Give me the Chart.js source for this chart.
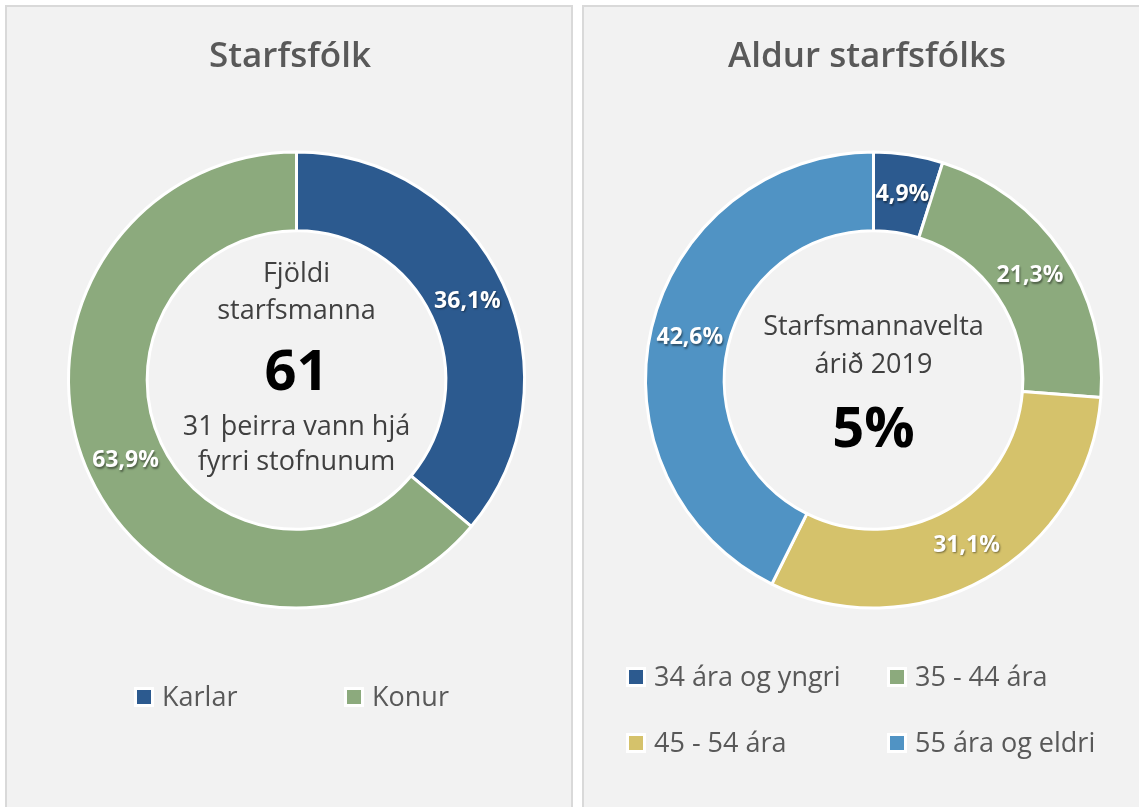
<!DOCTYPE html>
<html>
<head>
<meta charset="utf-8">
<title>Starfsfólk</title>
<script src="https://cdn.jsdelivr.net/npm/chart.js@4"></script>
<style>
    body { margin: 0; background: #fff; overflow: hidden; width: 1139px; height: 807px; position: relative; }
    .panel { position: absolute; top: 5px; width: 564px; height: 810px; border: 2px solid #d9d9d9; background: #f2f2f2; }
    #p1 { left: 5px; }
    #p2 { left: 582px; }
    canvas { display: block; }
</style>
</head>
<body>
<div class="panel" id="p1"><canvas id="chart-1" width="564" height="800"></canvas></div>
<div class="panel" id="p2"><canvas id="chart-2" width="564" height="800"></canvas></div>
<script>
// data
const staffLabels = ['Karlar', 'Konur'];
const staffShare = [36.1, 63.9];
const ageLabels = ['34 ára og yngri', '35 - 44 ára', '45 - 54 ára', '55 ára og eldri'];
const ageShare = [4.9, 21.3, 31.1, 42.6];

const staffColors = ['#2C5A8F', '#8CAA7D'];
const ageColors = ['#2C5A8F', '#8CAA7D', '#D5C26B', '#5093C4'];

const FONT = "'Open Sans', 'Noto Sans', sans-serif";

// title, labels in the slices, text in the hole and the legend
const donutText = {
    id: 'donutText',
    afterDraw(chart, args, opts) {
        const ctx = chart.ctx;
        const meta = chart.getDatasetMeta(0);
        const data = chart.data.datasets[0].data;
        const cx = meta.data[0].x, cy = meta.data[0].y;

        ctx.save();
        ctx.textAlign = 'center';
        ctx.textBaseline = 'alphabetic';

        // title
        ctx.fillStyle = '#595959';
        ctx.font = '600 35px ' + FONT;
        ctx.fillText(opts.title, opts.titleX, opts.titleY);

        // percent labels
        ctx.font = 'bold 23px ' + FONT;
        ctx.textBaseline = 'middle';
        meta.data.forEach((arc, i) => {
            const p = arc.getProps(['startAngle', 'endAngle', 'innerRadius', 'outerRadius']);
            const a = (p.startAngle + p.endAngle) / 2;
            const r = (p.innerRadius + p.outerRadius) / 2;
            ctx.shadowColor = 'rgba(0,0,0,0.45)';
            ctx.shadowOffsetX = 1;
            ctx.shadowOffsetY = 1.5;
            ctx.shadowBlur = 2;
            ctx.fillStyle = '#fff';
            ctx.fillText(data[i].toFixed(1).replace('.', ',') + '%', cx + Math.cos(a) * r, cy + Math.sin(a) * r + 1);
        });
        ctx.shadowColor = 'transparent';

        // hole text
        ctx.textBaseline = 'alphabetic';
        opts.center.forEach(line => {
            ctx.font = line.font;
            ctx.fillStyle = line.color;
            ctx.fillText(line.text, cx, cy + line.dy);
        });

        // legend in a grid
        ctx.textAlign = 'left';
        ctx.textBaseline = 'middle';
        ctx.font = '27px ' + FONT;
        chart.data.labels.forEach((label, i) => {
            const col = i % opts.legendCols.length;
            const row = Math.floor(i / opts.legendCols.length);
            const x = opts.legendCols[col];
            const y = opts.legendRows[row];
            ctx.fillStyle = '#fff';
            ctx.fillRect(x, y - 10, 20, 20);
            ctx.fillStyle = chart.data.datasets[0].backgroundColor[i];
            ctx.fillRect(x + 3, y - 7, 14, 14);
            ctx.fillStyle = '#595959';
            ctx.fillText(label, x + 28, y + 1);
        });
        ctx.restore();
    }
};

function makeDonut(id, labels, values, colors, text) {
    return new Chart(document.getElementById(id), {
        type: 'doughnut',
        data: {
            labels: labels,
            datasets: [{
                data: values,
                backgroundColor: colors,
                borderColor: '#fff',
                borderWidth: 3,
                radius: 228,
                cutout: '65.5%'
            }]
        },
        options: {
            responsive: false,
            animation: false,
            layout: { padding: { left: 15, right: 0, top: 100, bottom: 154 } },
            plugins: {
                legend: { display: false },
                tooltip: { enabled: false },
                donutText: text
            }
        },
        plugins: [donutText]
    });
}

const chart1 = makeDonut('chart-1', staffLabels, staffShare, staffColors, {
    title: 'Starfsfólk',
    titleX: 283, titleY: 60,
    center: [
        { text: 'Fjöldi', dy: -98, font: '27px ' + FONT, color: '#404040' },
        { text: 'starfsmanna', dy: -61, font: '27px ' + FONT, color: '#404040' },
        { text: '61', dy: 10, font: 'bold 56px ' + FONT, color: '#000' },
        { text: '31 þeirra vann hjá', dy: 55, font: '27px ' + FONT, color: '#404040' },
        { text: 'fyrri stofnunum', dy: 90, font: '27px ' + FONT, color: '#404040' }
    ],
    legendCols: [127, 337],
    legendRows: [690]
});

const chart2 = makeDonut('chart-2', ageLabels, ageShare, ageColors, {
    title: 'Aldur starfsfólks',
    titleX: 283, titleY: 60,
    center: [
        { text: 'Starfsmannavelta', dy: -45, font: '27px ' + FONT, color: '#404040' },
        { text: 'árið 2019', dy: -7, font: '27px ' + FONT, color: '#404040' },
        { text: '5%', dy: 67, font: 'bold 56px ' + FONT, color: '#000' }
    ],
    legendCols: [42, 303],
    legendRows: [670, 736]
});
</script>
</body>
</html>
